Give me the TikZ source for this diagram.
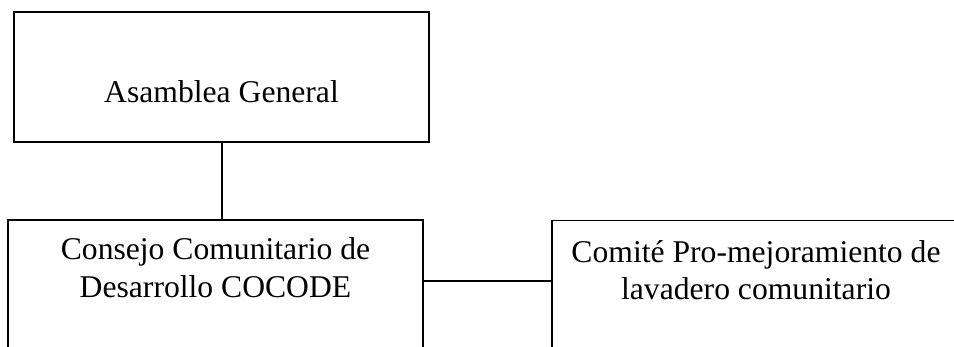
\documentclass[tikz,border=0pt]{standalone}
\usepackage{fontspec}
\setmainfont{Liberation Serif}
\usetikzlibrary{positioning}
\tikzset{caja/.style={draw, line width=0.8pt, rectangle, inner sep=0pt},
	etiqueta/.style={inner sep=0pt, align=center, font=\fontsize{22.5}{26.5}\selectfont}}

\begin{document}
\begin{tikzpicture}[x=0.025cm, y=-0.025cm]
	\useasboundingbox (0,0) rectangle (954,347);
	\clip (0,0) rectangle (954,347);

	\node[caja, minimum width=10.375cm, minimum height=3.25cm] (asamblea) at (221.5,77) {};
	\node[caja, minimum width=10.375cm, minimum height=3.5cm] (cocode) at (215.5,290) {};
	\node[caja, minimum width=11.475cm, minimum height=3.5cm] (comite) at (781.5,290.5) {};

	\node[etiqueta, anchor=base] (tasamblea) at (221.5,103) {Asamblea General};
	\node[etiqueta, anchor=base] (tcocode) at (215.5,297) {Consejo Comunitario de\\Desarrollo COCODE};
	\node[etiqueta, anchor=base] (tcomite) at (756,300) {Comité Pro-mejoramiento de\\lavadero comunitario};

	\coordinate (enlace) at (0,281);
	\draw[line width=0.8pt] ([xshift=0.0125cm]asamblea.south) -- ([xshift=0.0125cm]asamblea.south |- cocode.north);
	\draw[line width=0.8pt] (cocode.east |- enlace) -- (comite.west |- enlace);
\end{tikzpicture}
\end{document}
